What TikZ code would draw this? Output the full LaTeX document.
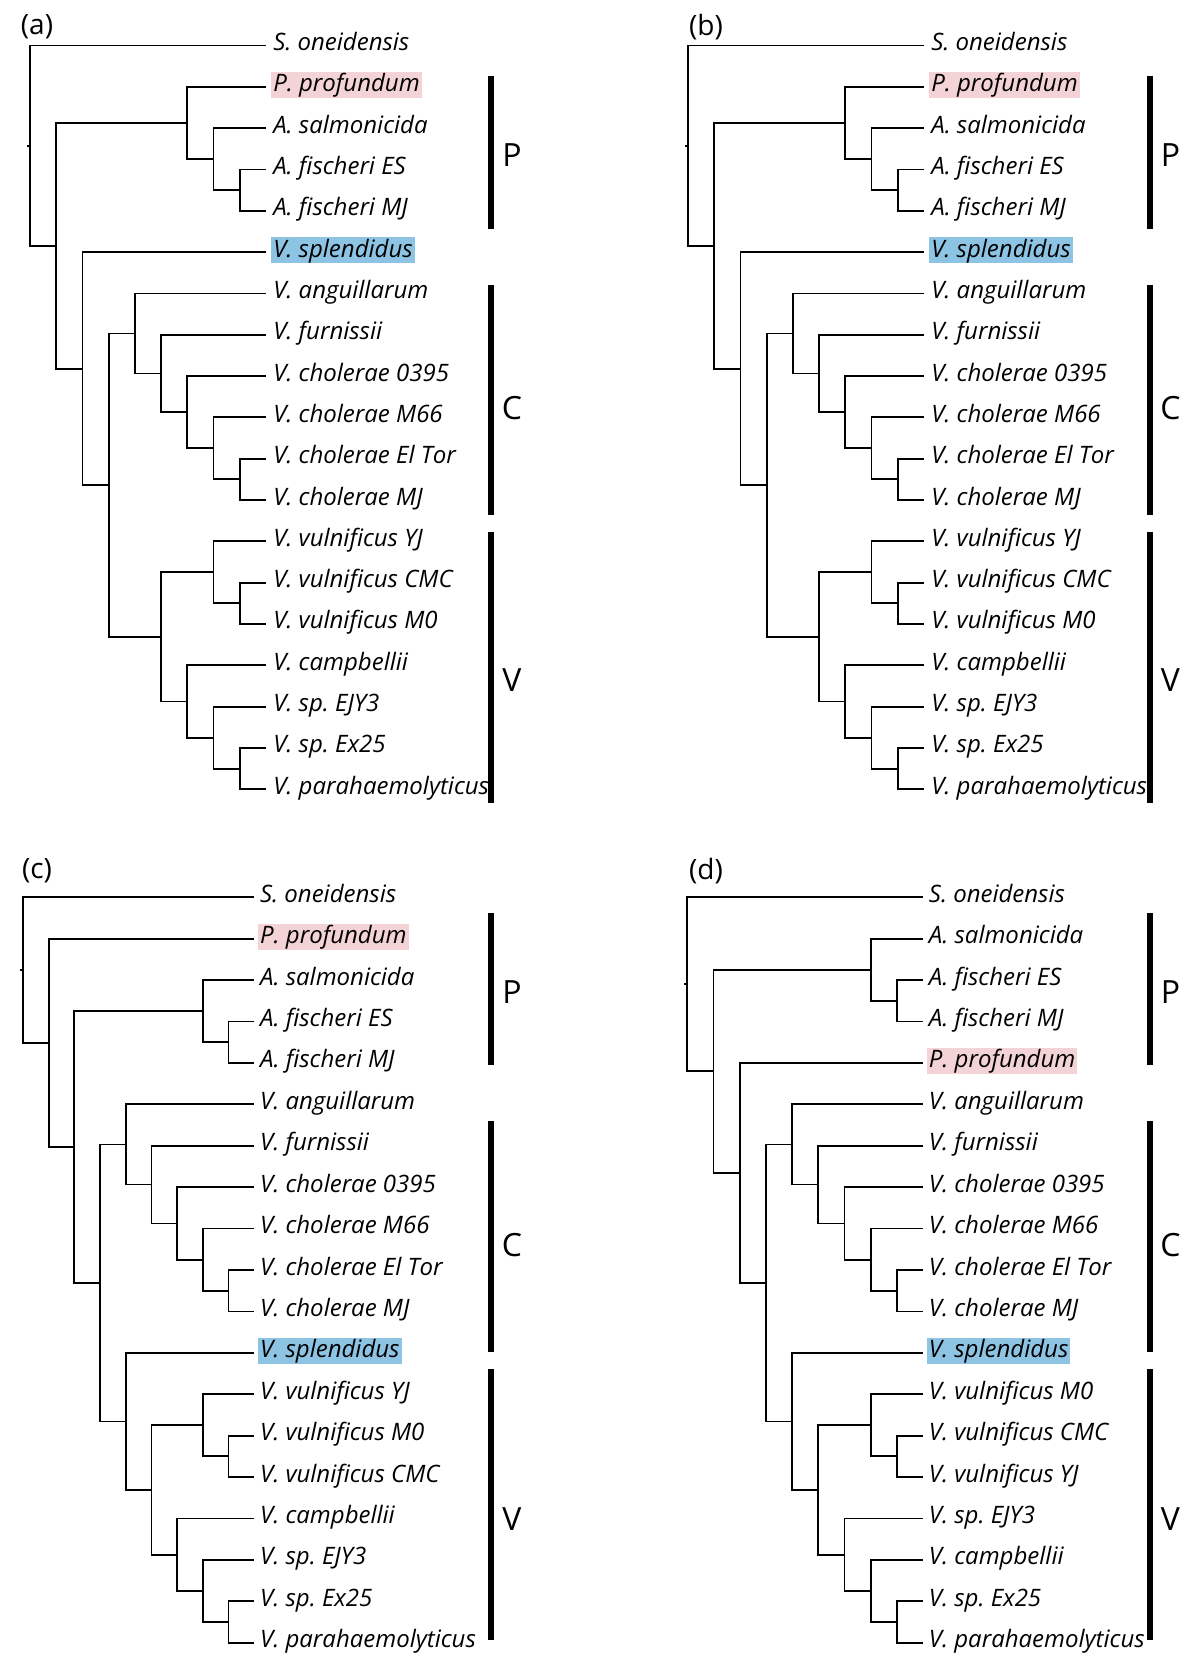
\documentclass[tikz,border=0pt]{standalone}
\usepackage{fontspec}
\setmainfont{Open Sans}
\usepackage{xcolor}
\definecolor{profpink}{RGB}{244,211,214}
\definecolor{splblue}{RGB}{142,196,227}
\frenchspacing

\begin{document}
\begin{tikzpicture}[x=0.5pt, y=-0.5pt, line width=0.9pt]
\tikzset{
  taxon/.style={anchor=base west, inner xsep=1pt, inner ysep=0.6pt, text height=9.3pt, text depth=2.3pt, yshift=-2.5pt, font=\fontsize{12}{14}\selectfont\itshape},
  grpbar/.style={line width=3pt},
  grplab/.style={font=\fontsize{16}{16}\selectfont},
  panlab/.style={font=\fontsize{14}{14}\selectfont}
}
\useasboundingbox (0,0) rectangle (1200,1680);

% panels (a) and (b): same tree
\foreach \pn/\sx in {a/15pt, b/344pt} {
\begin{scope}[xshift=\sx, yshift=-22.75pt, x=13.11pt, y=-20.66pt, name prefix=\pn-, taxon/.append style={xshift=2.2pt}]
  \foreach \txt/\col [count=\i from 0] in {S. oneidensis/none, P. profundum/profpink, A. salmonicida/none, A. fischeri ES/none, A. fischeri MJ/none, V. splendidus/splblue, V. anguillarum/none, V. furnissii/none, V. cholerae 0395/none, V. cholerae M66/none, V. cholerae El Tor/none, V. cholerae MJ/none, V. vulnificus YJ/none, V. vulnificus CMC/none, V. vulnificus M0/none, V. campbellii/none, V. sp. EJY3/none, V. sp. Ex25/none, V. parahaemolyticus/none} {
    \coordinate (l\i) at (9,\i);
    \node[taxon, fill=\col] (t\i) at (l\i) {\txt};
  }
  \foreach \nm/\lx/\ry in {fis/8/3.5, aer/7/2.75, pcl/6/1.875, elmj/8/10.5, m66/7/9.75, o395/6/8.875, furn/5/7.9375, ccl/4/6.96875, cm/8/13.5, vul/7/12.75, expa/8/17.5, ejy/7/16.75, camp/6/15.875, vcl/5/14.3125, cv/3/10.640625, spl/2/7.8203125, pv/1/4.84765625, root/0/2.423828125, stub/-0.12/2.423828125}
    \coordinate (\nm) at (\lx,\ry);
  \foreach \nd/\kid in {fis/l3, fis/l4, aer/l2, aer/fis, pcl/l1, pcl/aer, elmj/l10, elmj/l11, m66/l9, m66/elmj, o395/l8, o395/m66, furn/l7, furn/o395, ccl/l6, ccl/furn, cm/l13, cm/l14, vul/l12, vul/cm, expa/l17, expa/l18, ejy/l16, ejy/expa, camp/l15, camp/ejy, vcl/vul, vcl/camp, cv/ccl, cv/vcl, spl/l5, spl/cv, pv/pcl, pv/spl, root/l0, root/pv, root/stub}
    \draw (\nd) |- (\kid);
\end{scope}
}

% panel (c)
\begin{scope}[xshift=11.45pt, yshift=-448.65pt, x=12.85pt, y=-20.705pt, name prefix=c-, taxon/.append style={xshift=1.5pt}]
  \foreach \txt/\col [count=\i from 0] in {S. oneidensis/none, P. profundum/profpink, A. salmonicida/none, A. fischeri ES/none, A. fischeri MJ/none, V. anguillarum/none, V. furnissii/none, V. cholerae 0395/none, V. cholerae M66/none, V. cholerae El Tor/none, V. cholerae MJ/none, V. splendidus/splblue, V. vulnificus YJ/none, V. vulnificus M0/none, V. vulnificus CMC/none, V. campbellii/none, V. sp. EJY3/none, V. sp. Ex25/none, V. parahaemolyticus/none} {
    \coordinate (l\i) at (9,\i);
    \node[taxon, fill=\col] (t\i) at (l\i) {\txt};
  }
  \foreach \nm/\lx/\ry in {fis/8/3.5, aer/7/2.75, elmj/8/9.5, m66/7/8.75, o395/6/7.875, furn/5/6.9375, ccl/4/5.96875, cm/8/13.5, vul/7/12.75, expa/8/17.5, ejy/7/16.75, camp/6/15.875, vcl/5/14.3125, spl/4/12.65625, cv/3/9.3125, av/2/6.03125, pv/1/3.515625, root/0/1.7578125, stub/-0.12/1.7578125}
    \coordinate (\nm) at (\lx,\ry);
  \foreach \nd/\kid in {fis/l3, fis/l4, aer/l2, aer/fis, elmj/l9, elmj/l10, m66/l8, m66/elmj, o395/l7, o395/m66, furn/l6, furn/o395, ccl/l5, ccl/furn, cm/l13, cm/l14, vul/l12, vul/cm, expa/l17, expa/l18, ejy/l16, ejy/expa, camp/l15, camp/ejy, vcl/vul, vcl/camp, spl/l11, spl/vcl, cv/ccl, cv/spl, av/aer, av/cv, pv/l1, pv/av, root/l0, root/pv, root/stub}
    \draw (\nd) |- (\kid);
\end{scope}

% panel (d)
\begin{scope}[xshift=343.6pt, yshift=-448.65pt, x=13.1pt, y=-20.705pt, name prefix=d-, taxon/.append style={xshift=1.5pt}]
  \foreach \txt/\col [count=\i from 0] in {S. oneidensis/none, A. salmonicida/none, A. fischeri ES/none, A. fischeri MJ/none, P. profundum/profpink, V. anguillarum/none, V. furnissii/none, V. cholerae 0395/none, V. cholerae M66/none, V. cholerae El Tor/none, V. cholerae MJ/none, V. splendidus/splblue, V. vulnificus M0/none, V. vulnificus CMC/none, V. vulnificus YJ/none, V. sp. EJY3/none, V. campbellii/none, V. sp. Ex25/none, V. parahaemolyticus/none} {
    \coordinate (l\i) at (9,\i);
    \node[taxon, fill=\col] (t\i) at (l\i) {\txt};
  }
  \foreach \nm/\lx/\ry in {fis/8/2.5, aer/7/1.75, elmj/8/9.5, m66/7/8.75, o395/6/7.875, furn/5/6.9375, ccl/4/5.96875, cm/8/13.5, vul/7/12.75, expa/8/17.5, cmp/7/16.75, ejy/6/15.875, vcl/5/14.3125, spl/4/12.65625, cv/3/9.3125, pv/2/6.65625, av/1/4.203125, root/0/2.1015625, stub/-0.12/2.1015625}
    \coordinate (\nm) at (\lx,\ry);
  \foreach \nd/\kid in {fis/l2, fis/l3, aer/l1, aer/fis, elmj/l9, elmj/l10, m66/l8, m66/elmj, o395/l7, o395/m66, furn/l6, furn/o395, ccl/l5, ccl/furn, cm/l13, cm/l14, vul/l12, vul/cm, expa/l17, expa/l18, cmp/l16, cmp/expa, ejy/l15, ejy/cmp, vcl/vul, vcl/ejy, spl/l11, spl/vcl, cv/ccl, cv/spl, pv/l4, pv/cv, av/aer, av/pv, root/l0, root/av, root/stub}
    \draw (\nd) |- (\kid);
\end{scope}

% group bars
\foreach \pn/\xb in {a/491, b/1149.5} {
  \foreach \g/\ya/\yb/\yl in {P/76/229/155, C/285/515/408, V/532/803/680} {
    \coordinate (\pn\g1) at (\xb,\ya);
    \coordinate (\pn\g2) at (\xb,\yb);
    \draw[grpbar] (\pn\g1) -- (\pn\g2);
    \node[grplab] (\pn\g) at (\xb+21,\yl) {\g};
  }
}
\foreach \pn/\xb in {c/491, d/1149.5} {
  \foreach \g/\ya/\yb/\yl in {P/913/1065/992, C/1121/1352/1245, V/1369/1640/1519} {
    \coordinate (\pn\g1) at (\xb,\ya);
    \coordinate (\pn\g2) at (\xb,\yb);
    \draw[grpbar] (\pn\g1) -- (\pn\g2);
    \node[grplab] (\pn\g) at (\xb+21,\yl) {\g};
  }
}

\node[panlab] (laba) at (37,27) {(a)};
\node[panlab] (labb) at (706,27) {(b)};
\node[panlab] (labc) at (37,871) {(c)};
\node[panlab] (labd) at (706,871) {(d)};
\end{tikzpicture}
\end{document}
